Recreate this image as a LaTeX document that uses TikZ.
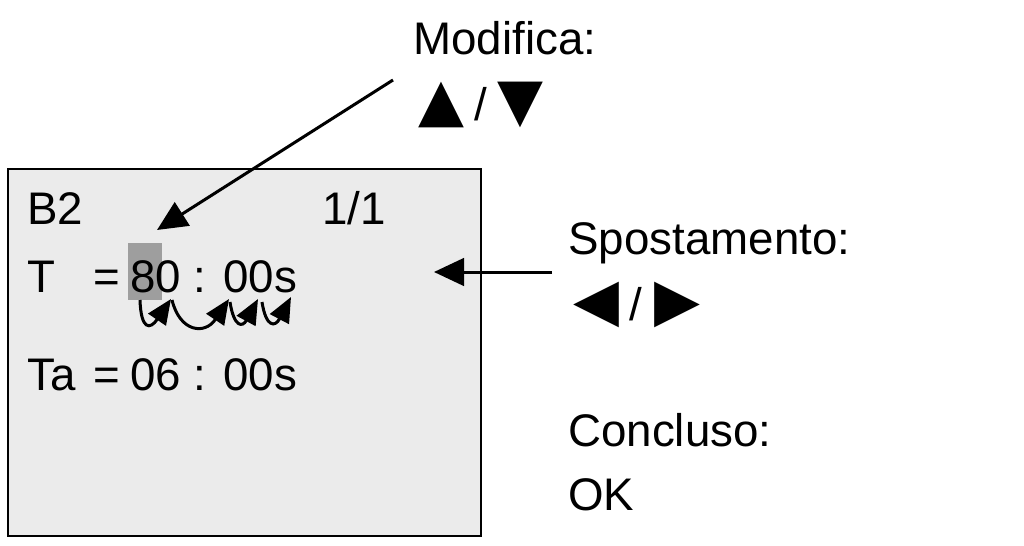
\documentclass[tikz,border=0pt]{standalone}
\usepackage{fontspec}
\setmainfont{Liberation Sans}
\newfontfamily\symfont{DejaVu Sans}
\usetikzlibrary{arrows.meta}
\newcommand{\keysym}[1]{{\fontsize{34}{40}\selectfont\symfont #1}}
\tikzset{
  lbl/.style={anchor=base west, inner sep=0pt, font=\fontsize{26}{31}\selectfont},
  sym/.style={inner sep=0pt, font=\fontsize{26}{31}\selectfont},
  bigarrow/.style={line width=0.06cm, -{Triangle[length=0.6cm,width=0.55cm]}},
  curl/.style={line width=0.06cm, -{Triangle[length=0.5cm,width=0.42cm]}}
}
\begin{document}
\begin{tikzpicture}
		%%%%% START %%%%%
		\useasboundingbox (0, 0) rectangle (20.48, 10.9);
		
		% display
		\draw[line width=0.04cm, fill=black!8] (0.16, 0.18) rectangle (9.62, 7.52);
		\fill[black!38] (2.56, 4.9) rectangle (3.24, 6.04);
		
		\node[lbl] (title) at (0.54, 6.42) {B2};
		\node[lbl] (page) at (6.44, 6.42) {1/1};
		\node[lbl] (tname) at (0.54, 5.06) {T};
		\node[lbl] (teq) at (1.86, 5.06) {=};
		\node[lbl] (tval) at (2.6, 5.06) {80 : 00s};
		\node[lbl] (taname) at (0.54, 3.1) {Ta};
		\node[lbl] (taeq) at (1.86, 3.1) {=};
		\node[lbl] (taval) at (2.6, 3.1) {06 : 00s};
		
		% help texts
		\node[lbl] (mod) at (8.26, 9.8) {Modifica:};
		\node[sym] (modkeys) at (9.62, 8.8) {\keysym{▲}\hspace{0.2cm}/\hspace{0.2cm}\keysym{▼}};
		\node[lbl] (move) at (11.36, 5.8) {Spostamento:};
		\node[sym] (movekeys) at (12.74, 4.8) {\keysym{◀}\hspace{0.2cm}/\hspace{0.25cm}\keysym{▶}};
		\node[lbl] (done) at (11.36, 1.98) {Concluso:};
		\node[lbl] (ok) at (11.36, 0.7) {OK};
		
		% pointers
		\coordinate (modfrom) at (7.86, 9.3);
		\coordinate (modto) at (3.14, 6.3);
		\draw[bigarrow] (modfrom) -- (modto);
		\coordinate (movefrom) at (11.04, 5.46);
		\coordinate (moveto) at (8.68, 5.46);
		\draw[bigarrow] (movefrom) -- (moveto);
		
		% cursor jumps
		\coordinate (c0) at (2.8, 4.9);
		\coordinate (c1) at (3.42, 4.92);
		\coordinate (c2) at (3.44, 4.9);
		\coordinate (c3) at (4.58, 4.92);
		\coordinate (c4) at (4.6, 4.86);
		\coordinate (c5) at (5.16, 4.92);
		\coordinate (c6) at (5.24, 4.86);
		\coordinate (c7) at (5.82, 4.96);
		\draw[curl] (c0) .. controls (2.82, 4.3) and (3.0, 4.3) .. (c1);
		\draw[curl] (c2) .. controls (3.6, 4.25) and (4.1, 4.2) .. (c3);
		\draw[curl] (c4) .. controls (4.68, 4.35) and (4.85, 4.35) .. (c5);
		\draw[curl] (c6) .. controls (5.32, 4.35) and (5.5, 4.35) .. (c7);
		
		%%%%% END %%%%%
\end{tikzpicture}
\end{document}
